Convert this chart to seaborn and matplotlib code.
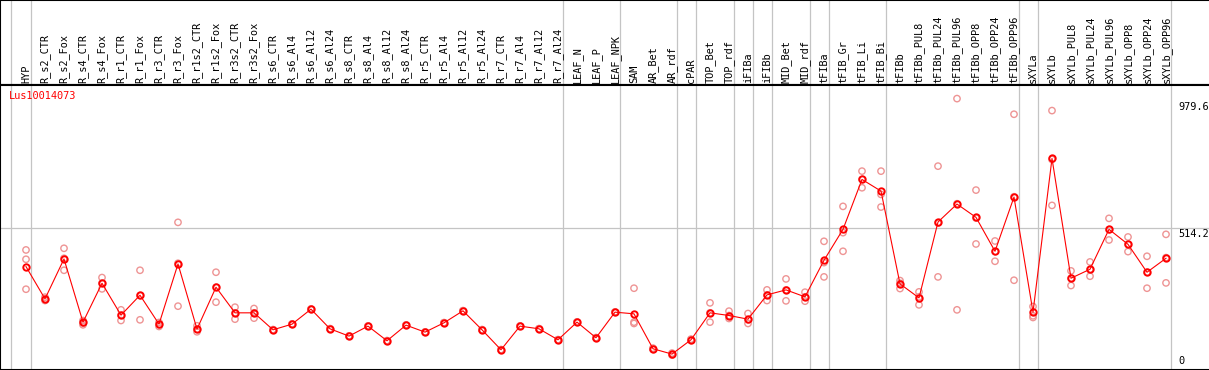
import numpy as np
import pandas as pd
import matplotlib
matplotlib.use('Agg')
import matplotlib.pyplot as plt
import seaborn as sns

# sample names along the top
samples = ['HYP', 'R_s2_CTR', 'R_s2_Fox', 'R_s4_CTR', 'R_s4_Fox', 'R_r1_CTR', 'R_r1_Fox',
           'R_r3_CTR', 'R_r3_Fox', 'R_r1s2_CTR', 'R_r1s2_Fox', 'R_r3s2_CTR', 'R_r3s2_Fox',
           'R_s6_CTR', 'R_s6_Al4', 'R_s6_Al12', 'R_s6_Al24', 'R_s8_CTR', 'R_s8_Al4',
           'R_s8_Al12', 'R_s8_Al24', 'R_r5_CTR', 'R_r5_Al4', 'R_r5_Al12', 'R_r5_Al24',
           'R_r7_CTR', 'R_r7_Al4', 'R_r7_Al12', 'R_r7_Al24', 'LEAF_N', 'LEAF_P', 'LEAF_NPK',
           'SAM', 'AR_Bet', 'AR_rdf', 'cPAR', 'TOP_Bet', 'TOP_rdf', 'iFIBa', 'iFIBb',
           'MID_Bet', 'MID_rdf', 'tFIBa', 'tFIB_Gr', 'tFIB_Li', 'tFIB_Bi', 'tFIBb',
           'tFIBb_PUL8', 'tFIBb_PUL24', 'tFIBb_PUL96', 'tFIBb_OPP8', 'tFIBb_OPP24',
           'tFIBb_OPP96', 'sXYLa', 'sXYLb', 'sXYLb_PUL8', 'sXYLb_PUL24', 'sXYLb_PUL96',
           'sXYLb_OPP8', 'sXYLb_OPP24', 'sXYLb_OPP96']

# number of samples in each tissue group (gray separators between them)
group_sizes = [1, 28, 3, 3, 1, 2, 1, 1, 2, 1, 3, 7, 1, 7]

# mean expression per sample
means = [377.0, 261.2, 404.4, 177.7, 317.3, 202.7, 274.3, 170.5, 386.5, 152.6,
         303.0, 211.1, 211.1, 150.2, 170.5, 224.2, 153.8, 127.6, 163.4, 110.9,
         166.9, 141.9, 175.3, 218.3, 150.2, 78.6, 163.4, 153.8, 114.4, 177.7,
         121.6, 213.5, 207.5, 82.2, 63.1, 114.4, 211.1, 201.5, 188.4, 275.5,
         293.4, 268.4, 399.6, 510.6, 689.6, 647.8, 314.9, 264.8, 536.9, 601.3,
         553.6, 431.9, 626.4, 213.5, 764.8, 335.2, 367.4, 510.6, 456.9, 356.7,
         406.8]

# individual replicates
rep1 = [436.7, 267.2, 442.6, 183.6, 337.6, 221.8, 363.8, 176.5, 535.7, 164.6,
        356.7, 231.4, 226.6, 151.0, 171.5, 225.0, 154.5, 128.3, 164.0, 111.5,
        167.5, 142.5, 176.0, 219.0, 151.0, 79.3, 164.0, 154.5, 115.0, 178.3,
        122.3, 214.2, 299.4, 84.5, 66.7, 116.8, 246.9, 217.1, 208.7, 293.4,
        332.8, 285.1, 467.7, 593.0, 719.4, 719.4, 326.8, 286.3, 737.3, 979.6,
        651.4, 468.8, 923.5, 233.8, 936.6, 361.5, 393.7, 550.0, 483.2, 414.0,
        492.7]
rep2 = [403.2, 260.0, 406.8, 174.1, 317.3, 202.7, 273.1, 168.1, 388.9, 152.6,
        303.0, 211.1, 211.1, 150.2, 170.5, 224.2, 153.8, 127.6, 163.4, 110.9,
        166.9, 141.9, 175.3, 218.3, 150.2, 78.6, 163.4, 153.8, 114.4, 177.7,
        121.6, 213.5, 177.7, 82.2, 63.1, 114.4, 211.1, 201.5, 186.0, 275.5,
        293.4, 268.4, 391.3, 498.7, 689.6, 635.9, 317.3, 268.4, 533.3, 602.5,
        551.2, 430.7, 627.6, 200.4, 761.2, 335.2, 366.2, 509.4, 456.9, 356.7,
        409.2]
rep3 = [295.8, 255.2, 363.8, 168.1, 297.0, 183.6, 186.0, 162.2, 235.0, 143.1,
        249.3, 188.4, 192.0, 149.4, 169.6, 223.4, 153.1, 126.9, 162.8, 110.3,
        166.2, 141.2, 174.6, 217.6, 149.4, 77.9, 162.8, 153.1, 113.8, 177.0,
        120.9, 212.8, 172.9, 80.0, 59.5, 112.0, 177.7, 190.8, 172.9, 255.2,
        254.1, 252.9, 340.0, 431.9, 659.8, 590.6, 298.2, 239.7, 340.0, 221.8,
        458.1, 396.1, 328.0, 194.4, 596.5, 309.0, 342.4, 472.4, 430.7, 299.4,
        318.5]

gene_id = 'Lus10014073'
tick_values = [0, 514.2, 979.6]
tick_labels = ['0', '514.2', '979.6']

idx = np.arange(len(samples))
rep_df = pd.DataFrame({
    'pos': np.tile(idx, 3),
    'value': rep1 + rep2 + rep3,
})

W, H = 1209, 370
head_px = 85
fig = plt.figure(figsize=(W / 100, H / 100), dpi=100)
plt.rcParams['font.family'] = ['DejaVu Sans Mono']

# x mapping: sample 0 at px 26, 19 px per sample
xlim = (-26 / 19, (W - 26) / 19)
ymax = 1028.4
ymin = 6.0

ax_head = fig.add_axes([0, (H - head_px) / H, 1, head_px / H])
ax = fig.add_axes([0, 0, 1, (H - head_px) / H])

for a in (ax_head, ax):
    a.set_xlim(*xlim)
    a.set_xticks([])
    a.set_yticks([])
    a.set_facecolor('white')
    for s in a.spines.values():
        s.set_color('black')
        s.set_linewidth(1.5)
    a.spines['right'].set_visible(False)

ax_head.set_ylim(0, head_px)
ax.set_ylim(ymin, ymax)

# group separators
breaks = [-0.8] + [c - 0.75 for c in np.cumsum(group_sizes)]
for b in breaks:
    ax_head.axvline(b, color='#c4c4c4', lw=0.9, zorder=0)
    ax.axvline(b, color='#c4c4c4', lw=0.9, zorder=0)

# mid gridline
ax.axhline(tick_values[1], color='#c4c4c4', lw=0.9, zorder=0)

# sample labels
for i, name in enumerate(samples):
    ax_head.text(i, 2.0, name, rotation=90, ha='center', va='bottom',
                 fontsize=7.4, color='black')

# replicates
sns.scatterplot(data=rep_df, x='pos', y='value', ax=ax, marker='o', s=21,
                facecolors='none', edgecolor='#ee9494', linewidth=1.0,
                legend=False, zorder=3)

# means
sns.lineplot(x=idx, y=means, ax=ax, color='red', lw=0.8, marker='o',
             markersize=4.6, markerfacecolor='none', markeredgecolor='red',
             markeredgewidth=1.4, zorder=4)

ax.set_xlabel('')
ax.set_ylabel('')
ax.set_xlim(*xlim)
ax.set_ylim(ymin, ymax)

# gene name
ax.text(-0.88, 1006, gene_id, color='red', fontsize=7.4, ha='left', va='top')

# value labels on the right
lab_x = (1178 - 26) / 19
ax.text(lab_x, 966, tick_labels[2], fontsize=7.4, ha='left', va='top')
ax.text(lab_x, tick_values[1] - 1, tick_labels[1], fontsize=7.4, ha='left', va='top')
ax.text(lab_x, 22, tick_labels[0], fontsize=7.4, ha='left', va='bottom')

fig.savefig('out.png', dpi=100)
